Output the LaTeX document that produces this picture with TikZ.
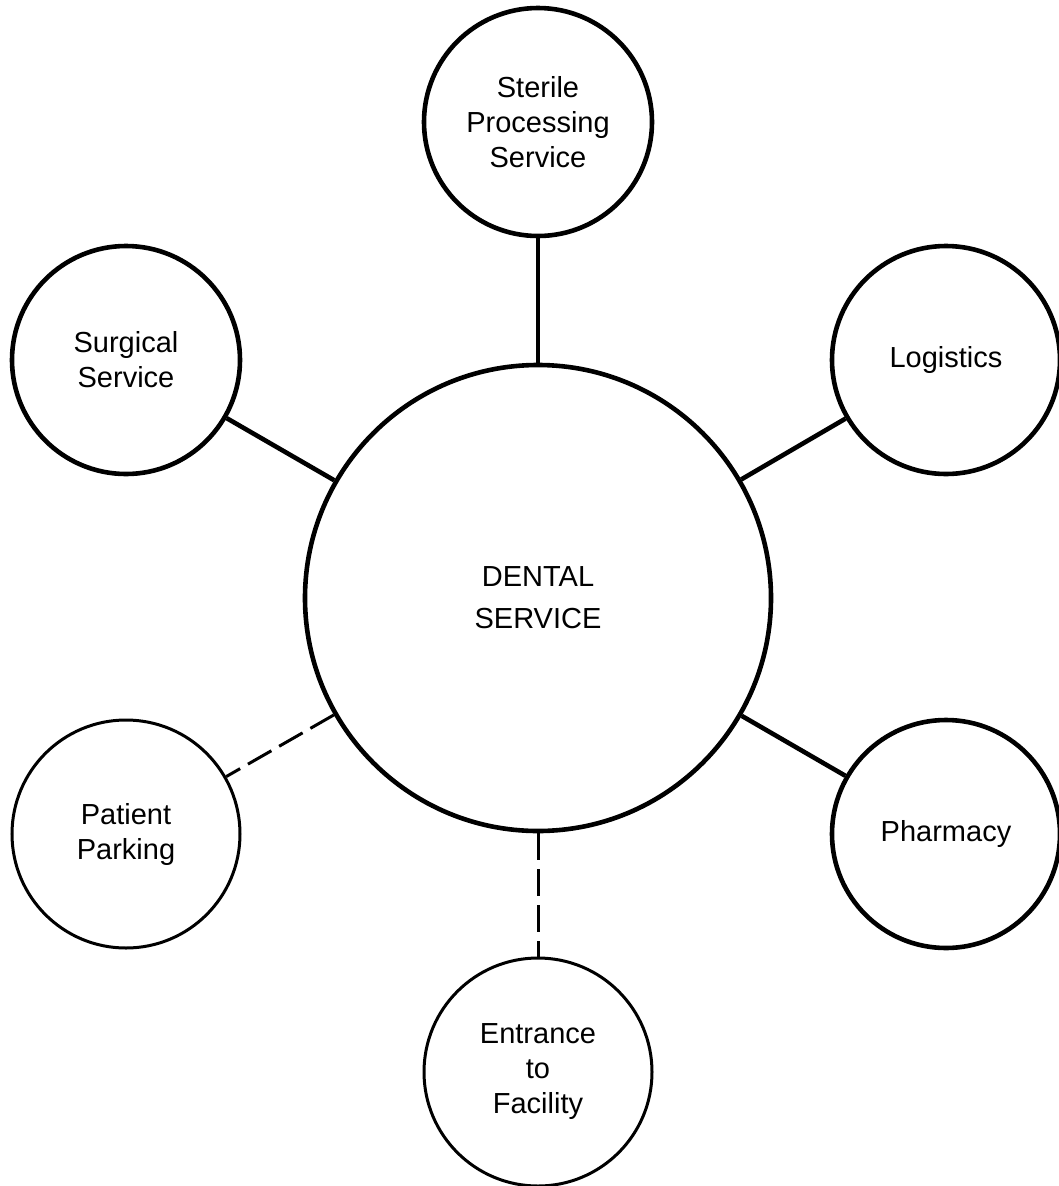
\documentclass[tikz,border=0pt]{standalone}
\usepackage{fontspec}
\setmainfont{Liberation Sans}
\begin{document}
\begin{tikzpicture}[x=1pt,y=-1pt,
  thickc/.style={circle,draw,line width=4.6pt,minimum size=228pt,inner sep=0pt,align=center,font=\fontsize{29}{35}\selectfont},
  thinc/.style={circle,draw,line width=3pt,minimum size=228pt,inner sep=0pt,align=center,font=\fontsize{29}{35}\selectfont},
  hub/.style={circle,draw,line width=4.6pt,minimum size=466pt,inner sep=0pt,align=center,font=\fontsize{29}{42}\selectfont},
  solidlink/.style={line width=4.6pt},
  dashlink/.style={line width=3pt,dash pattern=on 27pt off 9pt}]
\useasboundingbox (0,0) rectangle (1059,1186);
\node[hub] (c) at (538,598) {DENTAL\\SERVICE};
\node[thickc] (sp) at (538,122) {Sterile\\Processing\\Service};
\node[thickc] (ss) at (126,360) {Surgical\\Service};
\node[thickc] (lo) at (946,360) {Logistics};
\node[thinc] (pp) at (126,834) {Patient\\Parking};
\node[thickc] (ph) at (946,834) {Pharmacy};
\node[thinc] (en) at (538,1072) {Entrance\\to\\Facility};
\draw[solidlink] (c) -- (sp);
\draw[solidlink] (c) -- (ss);
\draw[solidlink] (c) -- (lo);
\draw[solidlink] (c) -- (ph);
\draw[dashlink] (c) -- (pp);
\draw[dashlink] (c) -- (en);
\end{tikzpicture}
\end{document}
